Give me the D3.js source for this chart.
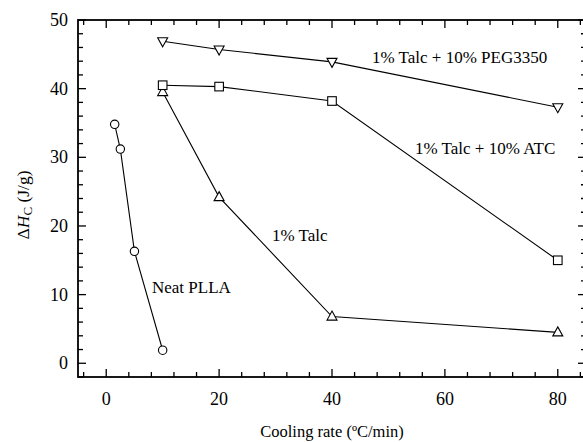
<!DOCTYPE html>
<html>
<head>
<meta charset="utf-8">
<script src="https://cdn.jsdelivr.net/npm/d3@7"></script>
<style>
  body { margin: 0; background: #fff; }
  svg { display: block; font-family: "Liberation Serif", "DejaVu Serif", serif; }
</style>
</head>
<body>
<div id="chart"></div>
<script>
// Chart data
const neatX = [1.5, 2.5, 5, 10];
const neatY = [34.8, 31.2, 16.3, 1.9];
const talcX = [10, 20, 40, 80];
const talcY = [39.5, 24.2, 6.8, 4.5];
const atcX = [10, 20, 40, 80];
const atcY = [40.5, 40.3, 38.2, 15.0];
const pegX = [10, 20, 40, 80];
const pegY = [46.9, 45.7, 43.9, 37.3];

const xMajor = [0, 20, 40, 60, 80];
const yMajor = [0, 10, 20, 30, 40, 50];

const width = 583;
const height = 442;
const margin = { top: 20, right: -3, bottom: 65, left: 78 };

const svg = d3.select('#chart').append('svg')
  .attr('width', width)
  .attr('height', height);

const x = d3.scaleLinear().domain([-5, 85]).range([margin.left, width - margin.right]);
const y = d3.scaleLinear().domain([-2, 50]).range([height - margin.bottom, margin.top]);

const x0 = x.range()[0], x1 = x.range()[1];
const y0 = y.range()[0], y1 = y.range()[1];

// minor ticks
const xMinor = d3.range(-4, 85, 4).filter(v => !xMajor.includes(v));
const yMinor = d3.range(-2, 50, 2).filter(v => !yMajor.includes(v));

const ticks = svg.append('g').attr('stroke', '#000').attr('stroke-width', 1.3);
const addTicks = (vals, len) => {
  vals.forEach(v => {
    ticks.append('line').attr('x1', x(v)).attr('x2', x(v)).attr('y1', y0).attr('y2', y0 - len);
    ticks.append('line').attr('x1', x(v)).attr('x2', x(v)).attr('y1', y1).attr('y2', y1 + len);
  });
};
const addYTicks = (vals, len) => {
  vals.forEach(v => {
    ticks.append('line').attr('y1', y(v)).attr('y2', y(v)).attr('x1', x0).attr('x2', x0 + len);
    ticks.append('line').attr('y1', y(v)).attr('y2', y(v)).attr('x1', x1).attr('x2', x1 - len);
  });
};
addTicks(xMajor, 8);
addTicks(xMinor, 5);
addYTicks(yMajor, 8);
addYTicks(yMinor, 5);

// frame
svg.append('rect')
  .attr('x', x0).attr('y', y1)
  .attr('width', x1 - x0).attr('height', y0 - y1)
  .attr('fill', 'none').attr('stroke', '#000').attr('stroke-width', 1.8);

// tick labels
svg.append('g').selectAll('text').data(xMajor).join('text')
  .attr('x', d => x(d)).attr('y', y0 + 28)
  .attr('text-anchor', 'middle').attr('font-size', 18)
  .text(d => d);

svg.append('g').selectAll('text').data(yMajor).join('text')
  .attr('x', x0 - 10).attr('y', d => y(d) + 6)
  .attr('text-anchor', 'end').attr('font-size', 18)
  .text(d => d);

// axis titles
svg.append('text')
  .attr('x', (x0 + x1) / 2).attr('y', 437)
  .attr('text-anchor', 'middle').attr('font-size', 16.5)
  .text('Cooling rate (ºC/min)');

const yt = svg.append('text')
  .attr('transform', 'translate(29,205) rotate(-90)')
  .attr('text-anchor', 'middle').attr('font-size', 17.5);
yt.append('tspan').text('Δ');
yt.append('tspan').attr('font-style', 'italic').text('H');
yt.append('tspan').attr('font-size', 13).attr('dy', 3).text('C');
yt.append('tspan').attr('dy', -3).text(' (J/g)');

// series
const line = d3.line().x(d => x(d[0])).y(d => y(d[1]));
const series = [
  { xs: neatX, ys: neatY, shape: 'circle' },
  { xs: talcX, ys: talcY, shape: 'up' },
  { xs: atcX, ys: atcY, shape: 'square' },
  { xs: pegX, ys: pegY, shape: 'down' }
];

series.forEach(s => {
  const pts = s.xs.map((v, i) => [v, s.ys[i]]);
  svg.append('path')
    .attr('d', line(pts))
    .attr('fill', 'none').attr('stroke', '#000').attr('stroke-width', 1.1);

  const g = svg.append('g').attr('fill', '#fff').attr('stroke', '#000').attr('stroke-width', 1.1);
  pts.forEach(p => {
    const cx = x(p[0]), cy = y(p[1]);
    if (s.shape === 'circle') {
      g.append('circle').attr('cx', cx).attr('cy', cy).attr('r', 4.2);
    } else if (s.shape === 'square') {
      g.append('rect').attr('x', cx - 4.3).attr('y', cy - 4.3).attr('width', 8.6).attr('height', 8.6);
    } else if (s.shape === 'up') {
      g.append('path').attr('d', `M${cx},${cy - 5.5}L${cx + 5},${cy + 3.5}L${cx - 5},${cy + 3.5}Z`);
    } else {
      g.append('path').attr('d', `M${cx},${cy + 5.5}L${cx + 5},${cy - 3.5}L${cx - 5},${cy - 3.5}Z`);
    }
  });
});

// series labels
const labels = [
  { t: '1% Talc + 10% PEG3350', x: 372, y: 63 },
  { t: '1% Talc + 10% ATC', x: 415, y: 154 },
  { t: '1% Talc', x: 272, y: 241 },
  { t: 'Neat PLLA', x: 152, y: 293 }
];
svg.append('g').selectAll('text').data(labels).join('text')
  .attr('x', d => d.x).attr('y', d => d.y)
  .attr('font-size', 17)
  .text(d => d.t);
</script>
</body>
</html>
